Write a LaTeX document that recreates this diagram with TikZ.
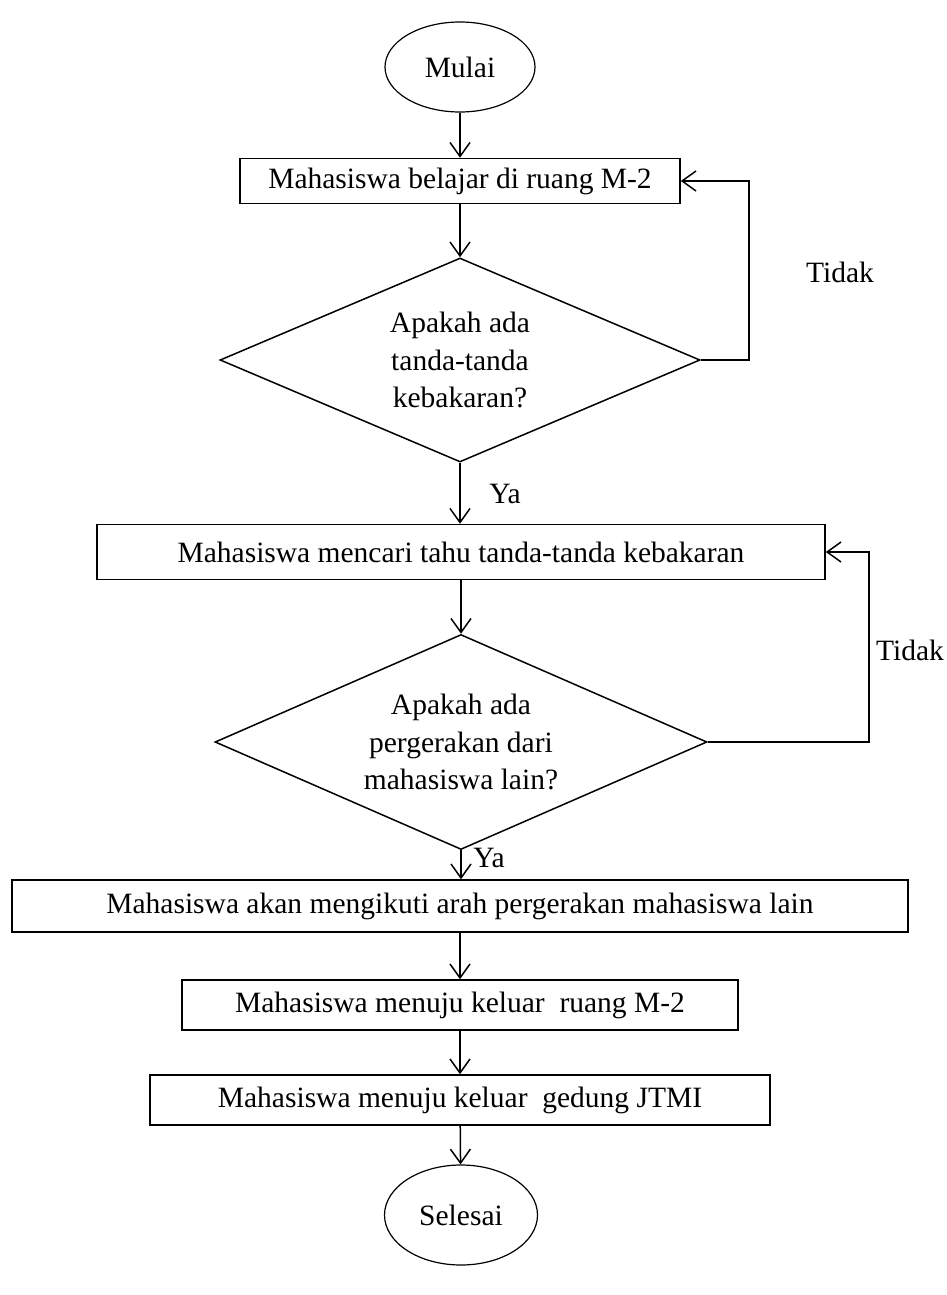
\documentclass[tikz,border=0pt]{standalone}
\usepackage{fontspec}
\setmainfont{Liberation Serif}
\usetikzlibrary{shapes.geometric,arrows.meta}
\begin{document}
\begin{tikzpicture}[x=1pt,y=-1pt,
  every node/.style={font=\fontsize{29.5}{37.5}\selectfont},
  term/.style={draw,ellipse,line width=1.2pt,inner sep=0pt},
  proc/.style={draw,rectangle,line width=1.5pt,inner sep=0pt},
  dec/.style={draw,diamond,line width=1.5pt,inner sep=0pt,align=center},
  arr/.style={line width=1.5pt,-{Straight Barb[length=14pt,width=20pt,line width=1.5pt]}},
  lbl/.style={inner sep=0pt}]
\fill[white] (0,0) rectangle (946,1295);
\useasboundingbox (0,0) rectangle (946,1295);

\node[term,minimum width=150pt,minimum height=90pt] (start) at (460,67) {Mulai};
\node[proc,minimum width=440pt,minimum height=45pt] (r1) at (460,181) {Mahasiswa belajar di ruang M-2};
\node[dec,aspect=2.35,minimum width=480pt,minimum height=204pt] (d1) at (460,360) {Apakah ada\\tanda-tanda\\kebakaran?};
\node[proc,minimum width=728pt,minimum height=55pt] (r2) at (461,552) {Mahasiswa mencari tahu tanda-tanda kebakaran};
\node[dec,aspect=2.29,minimum width=492pt,minimum height=215pt] (d2) at (461,742) {Apakah ada\\pergerakan dari\\mahasiswa lain?};
\node[proc,minimum width=896pt,minimum height=52pt] (r3) at (460,906) {Mahasiswa akan mengikuti arah pergerakan mahasiswa lain};
\node[proc,minimum width=556pt,minimum height=50pt] (r4) at (460,1005) {Mahasiswa menuju keluar\ \ ruang M-2};
\node[proc,minimum width=620pt,minimum height=50pt] (r5) at (460,1100) {Mahasiswa menuju keluar\ \ gedung JTMI};
\node[term,minimum width=153pt,minimum height=100pt] (end) at (461,1215) {Selesai};

\node[lbl] (t1) at (840,272) {Tidak};
\node[lbl] (t2) at (910,650) {Tidak};
\node[lbl] (y1) at (505,494) {Ya};
\node[lbl] (y2) at (489,858) {Ya};

\draw[arr] (start) -- (r1);
\draw[arr] (r1) -- (d1);
\draw[arr] (d1) -- (r2.north -| d1.south);
\draw[arr] (r2.south -| d2.north) -- (d2);
\draw[arr] (d2) -- (r3.north -| d2.south);
\draw[arr] (r3) -- (r4);
\draw[arr] (r4) -- (r5);
\draw[arr] (r5) -- (end);
\draw[arr] (d1.east) -- ++(48,0) |- (r1.east);
\draw[arr] (d2.east) -- ++(161,0) |- (r2.east);
\end{tikzpicture}
\end{document}
